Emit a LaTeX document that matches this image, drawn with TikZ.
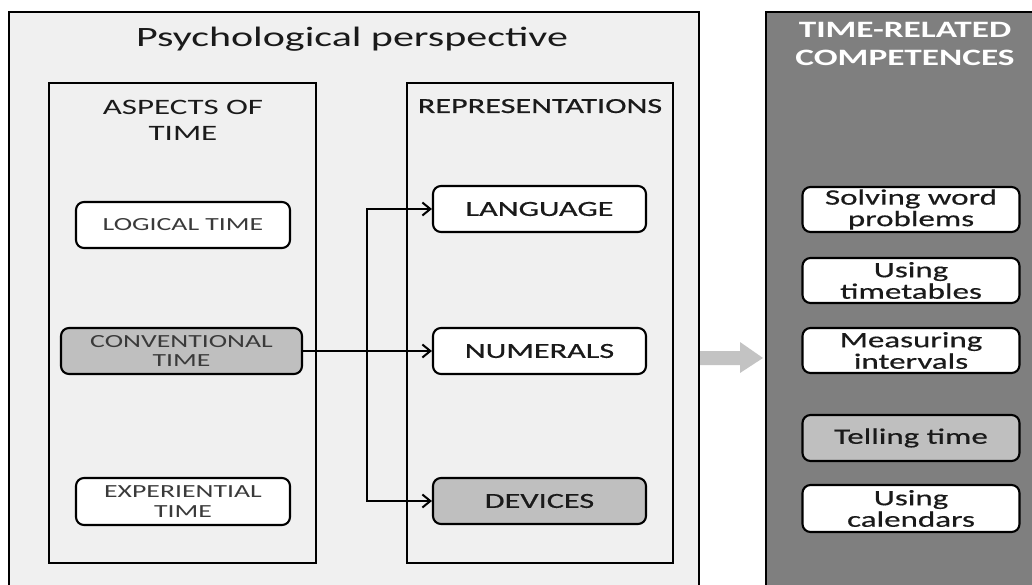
\documentclass[tikz,border=0pt]{standalone}
\usepackage{fontspec}
\setmainfont{Carlito}[FakeStretch=1.5]
\newfontfamily\semibold{Carlito}[FakeStretch=1.5, FakeBold=0.5]
\usetikzlibrary{arrows.meta}
\definecolor{panel}{HTML}{F0F0F0}
\definecolor{darkpanel}{HTML}{7F7F7F}
\definecolor{hl}{HTML}{BFBFBF}
\definecolor{softtext}{HTML}{3A3A3A}
\definecolor{hardtext}{HTML}{1A1A1A}
\definecolor{bigarrow}{HTML}{C3C3C3}
\tikzset{
  panelbox/.style={draw=black, line width=2.2pt},
  itembox/.style={draw=black, line width=2.1pt, rounded corners=8pt, fill=white, align=center, inner sep=0pt},
  smalltxt/.style={font=\fontsize{18.5}{19.5}\selectfont, text=softtext},
  bigtxt/.style={font=\semibold\fontsize{21.5}{22}\selectfont, text=hardtext},
  righttxt/.style={font=\semibold\fontsize{22}{21.5}\selectfont, text=hardtext},
  headtxt/.style={font=\fontsize{22}{26}\selectfont, text=hardtext, align=center, inner sep=0pt},
  conn/.style={draw=black, line width=2pt, -{Straight Barb[length=8pt,width=13pt,line width=2pt]}},
}
\begin{document}
\begin{tikzpicture}[x=1pt,y=-1pt]
\useasboundingbox (0,0) rectangle (1032,585);
% panels
\draw[panelbox, fill=panel] (9,12) rectangle (699,600);
\draw[panelbox, fill=darkpanel] (766,12) rectangle (1045,600);
\draw[panelbox] (49,83) rectangle (316,563);
\draw[panelbox] (407,83) rectangle (673,563);
% titles
\node[anchor=base, inner sep=0pt, font=\fontsize{28}{30}\selectfont, text=hardtext] (ptitle) at (352,47) {Psychological perspective};
\node[headtxt, anchor=center] (aspects) at (183,120) {ASPECTS OF\\TIME};
\node[anchor=base, inner sep=0pt, font=\semibold\fontsize{21.5}{26}\selectfont, text=hardtext] (reps) at (540,113) {REPRESENTATIONS};
\node[anchor=center, align=center, inner sep=0pt, text=white, font=\bfseries\fontsize{23.5}{28}\selectfont] (comp) at (905,44) {TIME-RELATED\\COMPETENCES};
% aspects
\node[itembox, smalltxt, minimum width=214pt, minimum height=46pt] (logical) at (183,225) {LOGICAL TIME};
\node[itembox, smalltxt, fill=hl, minimum width=241pt, minimum height=46pt] (conv) at (181.5,351) {CONVENTIONAL\\TIME};
\node[itembox, smalltxt, minimum width=214pt, minimum height=47pt] (exper) at (183,501.5) {EXPERIENTIAL\\TIME};
% representations
\node[itembox, bigtxt, minimum width=213pt, minimum height=46pt] (lang) at (539.5,209) {LANGUAGE};
\node[itembox, bigtxt, minimum width=213pt, minimum height=46pt] (num) at (539.5,351) {NUMERALS};
\node[itembox, bigtxt, fill=hl, minimum width=213pt, minimum height=46pt] (dev) at (539.5,501) {DEVICES};
% competences
\node[itembox, righttxt, minimum width=217pt, minimum height=45pt] (solve) at (911,209.5) {Solving word\\problems};
\node[itembox, righttxt, minimum width=217pt, minimum height=45pt] (tt) at (911,280.5) {Using\\timetables};
\node[itembox, righttxt, minimum width=217pt, minimum height=45pt] (meas) at (911,350.5) {Measuring\\intervals};
\node[itembox, righttxt, fill=hl, minimum width=217pt, minimum height=46pt] (tell) at (911,438) {Telling time};
\node[itembox, righttxt, minimum width=217pt, minimum height=47pt] (cal) at (911,508.5) {Using\\calendars};
% connectors
\coordinate (junc) at (367,351);
\draw[conn] (conv.east) -- (num.west);
\draw[conn] (junc) |- (lang.west);
\draw[conn] (junc) |- (dev.west);
% big grey arrow
\fill[bigarrow] (700,351) -- (740,351) -- (740,342) -- (763,358) -- (740,373) -- (740,365) -- (700,365) -- cycle;
\end{tikzpicture}
\end{document}
